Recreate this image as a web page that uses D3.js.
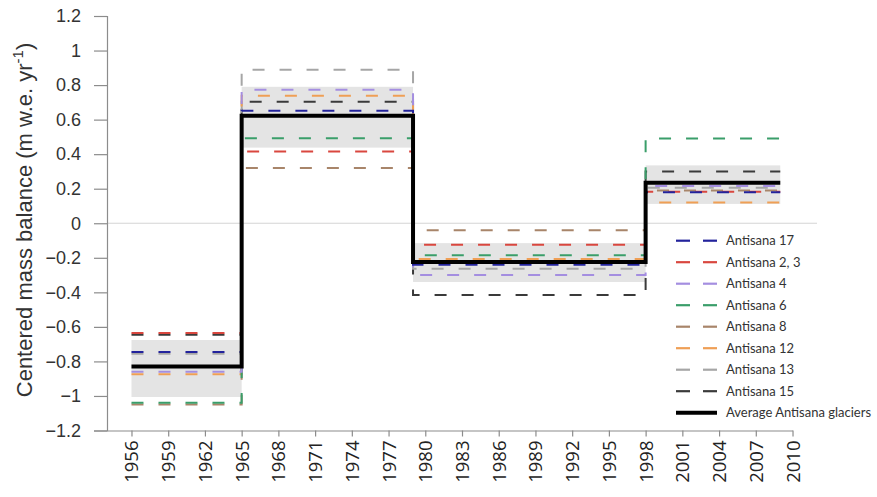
<!DOCTYPE html>
<html>
<head>
<meta charset="utf-8">
<script src="https://cdn.jsdelivr.net/npm/d3@7"></script>
<style>
  html, body { margin: 0; padding: 0; background: #fff; }
  svg { display: block; }
</style>
</head>
<body>
<svg id="chart" width="877" height="497"></svg>
<script>
// ---- data ----
const periodYears = [1956, 1965, 1979, 1998, 2009];
const xTickYears = [1956, 1959, 1962, 1965, 1968, 1971, 1974, 1977, 1980, 1983, 1986, 1989, 1992, 1995, 1998, 2001, 2004, 2007, 2010];
const yTickValues = [-1.2, -1, -0.8, -0.6, -0.4, -0.2, 0, 0.2, 0.4, 0.6, 0.8, 1, 1.2];

const seriesNames = ["Antisana 17", "Antisana 2, 3", "Antisana 4", "Antisana 6", "Antisana 8", "Antisana 12", "Antisana 13", "Antisana 15"];
const seriesColors = ["#23239c", "#d9473f", "#a48ee0", "#3a9e6a", "#a8856a", "#ef9f55", "#a6a6a6", "#3a3a3a"];
const antisana17 = [-0.745, 0.651, -0.240, 0.180];
const antisana23 = [-0.635, 0.415, -0.124, 0.182];
const antisana4  = [-0.860, 0.773, -0.300, 0.215];
const antisana6  = [-1.040, 0.492, -0.186, 0.490];
const antisana8  = [-1.050, 0.320, -0.040, 0.190];
const antisana12 = [-0.875, 0.738, -0.207, 0.120];
const antisana13 = [-0.755, 0.889, -0.263, 0.205];
const antisana15 = [-0.645, 0.703, -0.415, 0.300];
const averageAntisana = [-0.830, 0.622, -0.225, 0.235];
const bandLow  = [-1.006, 0.438, -0.340, 0.112];
const bandHigh = [-0.676, 0.790, -0.115, 0.335];
const seriesValues = [antisana17, antisana23, antisana4, antisana6, antisana8, antisana12, antisana13, antisana15];

// ---- scales ----
const svg = d3.select("#chart");
const x = d3.scaleLinear().domain([1954, 2012]).range([107, 817]);
const y = d3.scaleLinear().domain([-1.2, 1.2]).range([430.5, 16]);

function stepPoints(vals) {
  return periodYears.map((yr, i) => [yr, vals[Math.min(i, vals.length - 1)]]);
}
const line = d3.line().x(d => x(d[0])).y(d => y(d[1])).curve(d3.curveStepAfter);

// ---- bands ----
svg.append("g").selectAll("rect").data(bandLow).join("rect")
  .attr("x", (d, i) => x(periodYears[i]))
  .attr("width", (d, i) => x(periodYears[i + 1]) - x(periodYears[i]))
  .attr("y", (d, i) => y(bandHigh[i]))
  .attr("height", (d, i) => y(bandLow[i]) - y(bandHigh[i]))
  .attr("fill", "#e4e4e4");

// zero line
svg.append("line")
  .attr("x1", x(1954)).attr("x2", x(2012))
  .attr("y1", y(0)).attr("y2", y(0))
  .attr("stroke", "#d4d4d4").attr("stroke-width", 1.2);

// ---- y axis ----
const yAxis = d3.axisLeft(y).tickValues(yTickValues).tickSize(13).tickPadding(13)
  .tickFormat(d => d3.format("")(+d.toFixed(1)));
const gy = svg.append("g").attr("transform", `translate(${x(1954)},0)`).call(yAxis);
gy.select(".domain").attr("stroke", "#8c8c8c").attr("stroke-width", 1.2);
gy.selectAll(".tick line").attr("stroke", "#8c8c8c").attr("stroke-width", 1.2);
gy.selectAll(".tick text")
  .attr("font-family", "'Liberation Sans', Arial, sans-serif")
  .attr("font-size", 18).attr("fill", "#333");

// ---- x axis ----
const xAxisScale = d3.scaleLinear().domain([1954, 2010]).range([x(1954), x(2010)]);
const xAxis = d3.axisBottom(xAxisScale).tickValues(xTickYears).tickSize(6).tickSizeOuter(0).tickFormat(d3.format("d"));
const gx = svg.append("g").attr("transform", `translate(0,${y(-1.2)})`).call(xAxis);
gx.select(".domain").attr("stroke", "#8c8c8c").attr("stroke-width", 1.2);
gx.selectAll(".tick line").attr("stroke", "#8c8c8c").attr("stroke-width", 1.2);
gx.selectAll(".tick text")
  .attr("font-family", "'Open Sans', sans-serif")
  .attr("font-size", 18.5).attr("fill", "#222")
  .attr("transform", "rotate(-90)")
  .attr("text-anchor", "end")
  .attr("x", -10).attr("y", 0).attr("dy", "0.35em");

// ---- y title ----
const yt = svg.append("text")
  .attr("transform", "translate(32,220) rotate(-90)")
  .attr("text-anchor", "middle")
  .attr("font-family", "'Liberation Sans', Arial, sans-serif")
  .attr("font-size", 22).attr("fill", "#333");
yt.append("tspan").text("Centered mass balance (m w.e. yr");
yt.append("tspan").attr("dy", -9).attr("font-size", 15).text("-1");
yt.append("tspan").attr("dy", 9).text(")");

// ---- series lines (reverse order so Antisana 17 ends on top) ----
const order = d3.range(seriesNames.length).reverse();
svg.append("g").selectAll("path").data(order).join("path")
  .attr("d", i => line(stepPoints(seriesValues[i])))
  .attr("fill", "none")
  .attr("stroke", i => seriesColors[i])
  .attr("stroke-width", 2)
  .attr("stroke-dasharray", "12,15");

svg.append("path")
  .attr("d", line(stepPoints(averageAntisana)))
  .attr("fill", "none").attr("stroke", "#000").attr("stroke-width", 4);

// ---- legend ----
const legendNames = seriesNames.concat(["Average Antisana glaciers"]);
const leg = svg.append("g").selectAll("g").data(legendNames).join("g")
  .attr("transform", (d, i) => `translate(676,${240.7 + i * 21.5})`);
leg.each(function(d, i) {
  const g = d3.select(this);
  if (i < seriesNames.length) {
    g.append("line").attr("x1", 0).attr("x2", 14).attr("stroke", seriesColors[i]).attr("stroke-width", 2.2);
    g.append("line").attr("x1", 27).attr("x2", 41).attr("stroke", seriesColors[i]).attr("stroke-width", 2.2);
  } else {
    g.append("line").attr("x1", 0).attr("x2", 41).attr("stroke", "#000").attr("stroke-width", 4);
  }
  g.append("text").attr("x", 50).attr("dy", "0.35em")
    .attr("font-family", "Lato, sans-serif").attr("font-size", 13).attr("fill", "#333")
    .text(d);
});
</script>
</body>
</html>
